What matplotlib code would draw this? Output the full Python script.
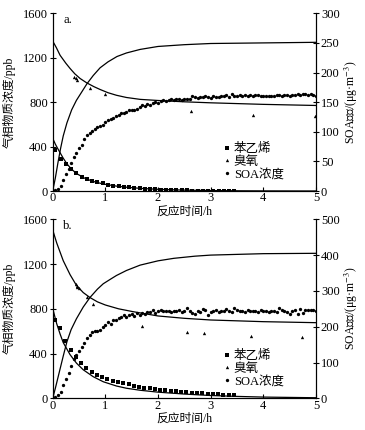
import matplotlib
matplotlib.use("Agg")
import matplotlib.pyplot as plt
from matplotlib.lines import Line2D

plt.rcParams['font.family'] = ['Liberation Serif', 'Noto Sans CJK SC']
plt.rcParams['mathtext.fontset'] = 'stix'
plt.rcParams['axes.unicode_minus'] = False

# ---------------- panel a ----------------
a_sty_t = [0.05, 0.15, 0.25, 0.35, 0.45, 0.55, 0.65, 0.75, 0.85, 0.95, 1.05, 1.15,
           1.25, 1.35, 1.45, 1.55, 1.65, 1.75, 1.85, 1.95, 2.05, 2.15, 2.25, 2.35,
           2.45, 2.55, 2.65, 2.75, 2.85, 2.95, 3.05, 3.15, 3.25, 3.35, 3.45]
a_sty = [372, 290, 245, 195, 160, 130, 110, 93, 82, 70, 58, 48,
         42, 36, 32, 27, 24, 21, 18, 15, 13, 11, 9, 8,
         6, 5, 4, 3, 3, 2, 2, 1, 1, 1, 1]
a_sty_fit_t = [0, 0.05, 0.1, 0.14, 0.2, 0.27, 0.35, 0.45, 0.6, 0.71, 0.8, 0.96,
               1.21, 1.4, 1.66, 2.0, 2.5, 3.0, 3.5, 4.0, 5.0]
a_sty_fit = [474, 422, 378, 345, 295, 245, 200, 158, 117, 96, 82, 63,
             44, 34, 24, 15, 8, 4, 2, 1, 0]

a_o3_t = [0.40, 0.44, 0.47, 0.71, 0.99, 2.63, 3.81, 4.99]
a_o3 = [1028, 1013, 998, 923, 872, 720, 684, 679]
a_o3_fit_t = [0, 0.07, 0.14, 0.25, 0.33, 0.42, 0.52, 0.645, 0.78, 0.9, 1.05, 1.21,
              1.4, 1.66, 2.0, 2.5, 3.0, 4.0, 5.0]
a_o3_fit = [1350, 1290, 1222, 1150, 1103, 1055, 1013, 974, 940, 914, 885, 862,
            842, 825, 815, 803, 794, 780, 770]

soa_t = [round(0.05 * i, 2) for i in range(1, 101)]
a_soa = [1, 4, 8, 19, 28, 37, 47, 58, 65, 72, 78, 88, 94, 98, 101, 104, 108, 110, 112, 116,
         120, 122, 124, 126, 128, 131, 132, 134, 136, 137, 137, 139, 141, 145, 143, 147, 146, 148, 150, 149,
         152, 153, 152, 154, 155, 154, 155, 155, 154, 155, 155, 156, 160, 158, 157, 158, 159, 160, 158, 157,
         161, 159, 158, 161, 160, 162, 159, 163, 161, 161, 162, 161, 162, 161, 162, 161, 162, 162, 161, 160,
         161, 161, 160, 161, 162, 162, 161, 162, 162, 161, 162, 162, 163, 162, 164, 163, 162, 163, 162, 161]
a_soa_fit_t = [0, 0.05, 0.1, 0.15, 0.2, 0.27, 0.36, 0.45, 0.55, 0.65, 0.77, 0.9,
               1.05, 1.22, 1.4, 1.66, 2.0, 2.5, 3.0, 4.0, 5.0]
a_soa_fit = [0, 22, 48, 72, 93, 115, 137, 153, 167, 181, 195, 208,
             218, 227, 233, 239, 244, 247, 249, 250, 251]

# ---------------- panel b ----------------
b_sty_t = [0.04, 0.14, 0.24, 0.34, 0.44, 0.54, 0.64, 0.74, 0.84, 0.94, 1.04, 1.14,
           1.24, 1.34, 1.44, 1.54, 1.64, 1.74, 1.84, 1.94, 2.04, 2.14, 2.24, 2.34,
           2.44, 2.54, 2.64, 2.74, 2.84, 2.94, 3.04, 3.14, 3.24, 3.34, 3.44]
b_sty = [700, 628, 515, 430, 365, 320, 270, 235, 212, 192, 175, 158,
         146, 135, 125, 112, 103, 95, 90, 83, 78, 72, 66, 62,
         58, 53, 50, 46, 43, 40, 37, 35, 32, 30, 28]
b_sty_fit_t = [0, 0.04, 0.075, 0.14, 0.2, 0.33, 0.45, 0.58, 0.77, 0.96, 1.21, 1.4,
               1.66, 2.0, 2.5, 3.0, 3.5, 4.0, 5.0]
b_sty_fit = [805, 730, 668, 575, 498, 390, 315, 255, 193, 148, 110, 90,
             72, 55, 38, 25, 17, 11, 5]

b_o3_t = [0.44, 0.46, 0.47, 0.49, 0.66, 0.77, 1.70, 2.55, 2.87, 3.76, 4.74]
b_o3 = [1020, 1005, 995, 985, 903, 840, 646, 596, 581, 560, 545]
b_o3_fit_t = [0, 0.075, 0.2, 0.33, 0.45, 0.58, 0.71, 0.85, 1.0, 1.25, 1.53, 2.0,
              2.5, 3.0, 4.0, 5.0]
b_o3_fit = [1505, 1390, 1230, 1105, 1010, 945, 900, 862, 834, 800, 774, 736,
            715, 700, 685, 676]

b_soa = [3, 8, 18, 38, 55, 72, 90, 110, 120, 132, 144, 155, 168, 178, 184, 187, 189, 192, 199, 205,
         212, 208, 220, 218, 224, 226, 232, 228, 233, 235, 231, 237, 234, 238, 236, 242, 240, 246, 238, 244,
         246, 243, 245, 244, 242, 243, 245, 247, 242, 244, 253, 245, 238, 236, 244, 241, 249, 246, 234, 241,
         244, 246, 241, 244, 243, 249, 245, 242, 252, 247, 243, 245, 240, 246, 243, 245, 244, 242, 246, 244,
         245, 241, 244, 243, 240, 252, 247, 244, 240, 236, 243, 247, 236, 249, 237, 248, 247, 247, 246, 245]
b_soa_fit_t = [0, 0.05, 0.1, 0.15, 0.2, 0.27, 0.35, 0.45, 0.58, 0.71, 0.85, 0.96,
               1.1, 1.21, 1.4, 1.66, 2.0, 2.3, 2.7, 3.0, 4.0, 5.0]
b_soa_fit = [0, 28, 58, 88, 118, 158, 192, 222, 255, 282, 305, 320,
             333, 343, 357, 372, 384, 391, 397, 400, 404, 405]

xticks = [0, 1, 2, 3, 4, 5]
left_ticks = [0, 400, 800, 1200, 1600]
a_right_ticks = [0, 50, 100, 150, 200, 250, 300]
b_right_ticks = [0, 100, 200, 300, 400, 500]
legend_labels = ['苯乙烯', '臭氧', 'SOA浓度']

FS = 9
MS = 2.4


def panel(ax, sty_t, sty, sty_fit_t, sty_fit, o3_t, o3, o3_fit_t, o3_fit,
          soa, soa_fit_t, soa_fit, rticks, tag, leg_y):
    ax.plot(sty_fit_t, sty_fit, color='black', lw=0.9)
    ax.plot(o3_fit_t, o3_fit, color='black', lw=0.9)
    ax.plot(sty_t, sty, 's', color='black', ms=MS, mew=0)
    ax.plot(o3_t, o3, '^', color='black', ms=MS, mew=0)
    ax.set_xlim(0, 5)
    ax.set_ylim(0, 1600)
    ax.set_xticks(xticks)
    ax.set_yticks(left_ticks)
    ax.spines['top'].set_visible(False)
    ax.tick_params(axis='y', direction='inout', length=5, width=0.8, labelsize=FS, pad=1)
    ax.tick_params(axis='x', direction='in', length=3, width=0.8, labelsize=FS, pad=1)
    ax.set_ylabel('气相物质浓度/ppb', fontsize=8.5)
    ax.yaxis.set_label_coords(-0.14, 0.5)
    ax.set_xlabel('反应时间/h', fontsize=8.5, labelpad=1)
    ax.text(0.04, 0.995, tag, transform=ax.transAxes, fontsize=FS, va='top')

    rx = ax.twinx()
    rx.plot(soa_fit_t, soa_fit, color='black', lw=0.9)
    rx.plot(soa_t, soa, 'o', color='black', ms=MS, mew=0)
    rx.set_ylim(0, rticks[-1])
    rx.set_yticks(rticks)
    rx.spines['top'].set_visible(False)
    rx.tick_params(axis='y', direction='inout', length=5, width=0.8, labelsize=FS, pad=1)
    rx.set_ylabel('SOA浓度/(μg·m$^{-3}$)', fontsize=8.5)
    rx.yaxis.set_label_coords(1.1, 0.5)

    handles = [Line2D([], [], ls='none', marker='s', color='black', ms=MS, mew=0),
               Line2D([], [], ls='none', marker='^', color='black', ms=MS, mew=0),
               Line2D([], [], ls='none', marker='o', color='black', ms=MS, mew=0)]
    rx.legend(handles, legend_labels, loc='upper left', bbox_to_anchor=(0.65, leg_y),
              frameon=False, fontsize=FS, handlelength=0.5, handletextpad=0.3,
              labelspacing=0.05, borderpad=0, borderaxespad=0)


fig = plt.figure(figsize=(3.65, 4.3), dpi=100)
ax_a = fig.add_axes([0.1444, 0.5558, 0.7214, 0.4133])
ax_b = fig.add_axes([0.1444, 0.0737, 0.7214, 0.4163])

panel(ax_a, a_sty_t, a_sty, a_sty_fit_t, a_sty_fit, a_o3_t, a_o3, a_o3_fit_t, a_o3_fit,
      a_soa, a_soa_fit_t, a_soa_fit, a_right_ticks, 'a.', 0.27)
panel(ax_b, b_sty_t, b_sty, b_sty_fit_t, b_sty_fit, b_o3_t, b_o3, b_o3_fit_t, b_o3_fit,
      b_soa, b_soa_fit_t, b_soa_fit, b_right_ticks, 'b.', 0.27)

fig.savefig('out.png', dpi=100)
